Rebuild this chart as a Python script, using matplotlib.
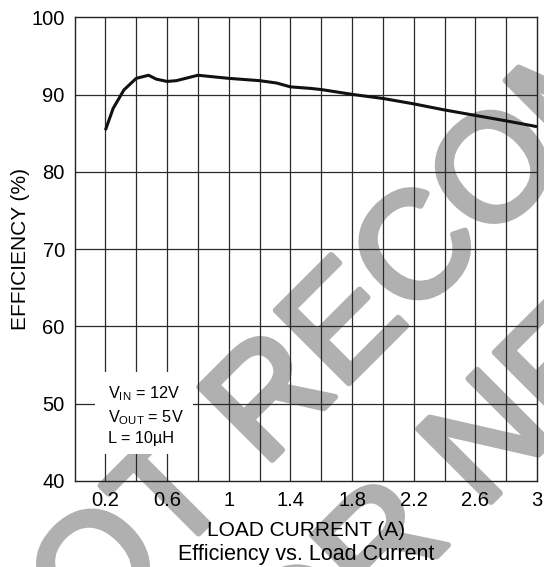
import matplotlib
matplotlib.use('Agg')
import matplotlib.pyplot as plt
import matplotlib.patheffects as pe
from matplotlib.patches import Rectangle

plt.rcParams['font.family'] = ['Liberation Sans', 'DejaVu Sans']
plt.rcParams['mathtext.fontset'] = 'custom'
plt.rcParams['mathtext.rm'] = 'Liberation Sans'
plt.rcParams['mathtext.it'] = 'Liberation Sans'

# efficiency curve
load_current = [0.2, 0.25, 0.32, 0.40, 0.48, 0.53, 0.60, 0.66, 0.74, 0.80,
                0.90, 1.0, 1.2, 1.31, 1.40, 1.53, 1.60, 1.81, 2.0, 2.2,
                2.39, 2.6, 2.8, 3.0]
efficiency = [85.4, 88.2, 90.6, 92.1, 92.5, 92.0, 91.7, 91.8, 92.2, 92.5,
              92.3, 92.1, 91.8, 91.5, 91.0, 90.8, 90.65, 90.0, 89.5, 88.8,
              88.05, 87.3, 86.6, 85.85]

x_ticks = [0.2, 0.6, 1, 1.4, 1.8, 2.2, 2.6, 3]
x_tick_labels = ['0.2', '0.6', '1', '1.4', '1.8', '2.2', '2.6', '3']
x_grid = [0.2, 0.4, 0.6, 0.8, 1.0, 1.2, 1.4, 1.6, 1.8, 2.0, 2.2, 2.4, 2.6, 2.8]
y_ticks = [40, 50, 60, 70, 80, 90, 100]

conditions = [r'V$_{\mathrm{IN}}$ = 12V', r'V$_{\mathrm{OUT}}$ = 5V', 'L = 10\u00b5H']
watermark = ['NOT RECOMMENDED', 'FOR NEW DESIGNS']

fig = plt.figure(figsize=(5.44, 5.67), dpi=100)
ax = fig.add_axes([0.1371, 0.1517, 0.85, 0.8178])
ax.patch.set_visible(False)

# watermark behind the axes
wm_fx = [pe.withStroke(linewidth=4.3, foreground='#b0b0b0')]
fig.text(0.022, -0.270, watermark[0], rotation=45, rotation_mode='anchor',
         ha='left', va='baseline', fontsize=108, color='#b0b0b0', zorder=-1,
         path_effects=wm_fx)
fig.text(0.421, -0.3475, watermark[1], rotation=45, rotation_mode='anchor',
         ha='left', va='baseline', fontsize=108, color='#b0b0b0', zorder=-1,
         path_effects=wm_fx)

for xv in x_grid:
    ax.axvline(xv, color='#2a2a2a', lw=0.9, zorder=1)
for yv in y_ticks[1:-1]:
    ax.axhline(yv, color='#2a2a2a', lw=0.9, zorder=1)

ax.plot(load_current, efficiency, color='#111111', lw=2.2, zorder=4,
        solid_capstyle='butt')

# white box for the test conditions
ax.add_patch(Rectangle((0.132, 43.5), 0.636, 10.6, facecolor='white',
                       edgecolor='none', zorder=2))
for txt, yv in zip(conditions, [50.74, 47.63, 44.92]):
    ax.text(0.217, yv, txt, fontsize=11.7, ha='left', va='baseline', zorder=3)

ax.set_xlim(0, 3)
ax.set_ylim(40, 100)
ax.set_xticks(x_ticks)
ax.set_xticklabels(x_tick_labels)
ax.set_yticks(y_ticks)
ax.tick_params(length=0, labelsize=14.5, pad=7)
for s in ax.spines.values():
    s.set_color('#222222')
    s.set_linewidth(1.0)

ax.set_xlabel('LOAD CURRENT (A)', fontsize=15, labelpad=8)
ax.set_ylabel('EFFICIENCY (%)', fontsize=15, labelpad=1)
fig.text(0.5625, 1 - 560 / 567, 'Efficiency vs. Load Current', fontsize=15.5,
         ha='center', va='baseline')

fig.savefig('out.png', dpi=100)
